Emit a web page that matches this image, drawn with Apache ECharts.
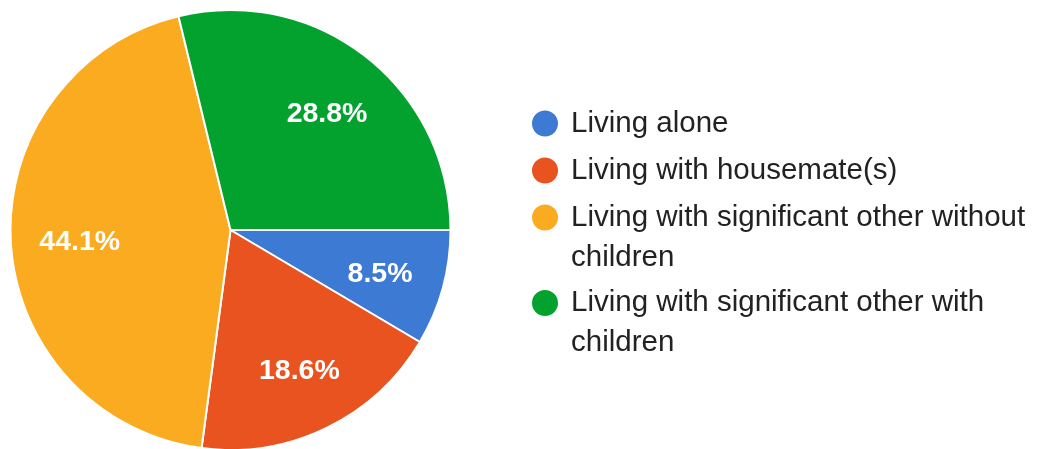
<!DOCTYPE html>
<html>
<head>
<meta charset="utf-8">
<style>
  html, body { margin: 0; padding: 0; background: #fff; }
  #chart { width: 1040px; height: 449px; }
</style>
<script src="https://cdn.jsdelivr.net/npm/echarts@6/dist/echarts.min.js"></script>
</head>
<body>
<div id="chart"></div>
<script>
const categories = [
  'Living alone',
  'Living with housemate(s)',
  'Living with significant other without children',
  'Living with significant other with children'
];
const percentValues = [8.5, 18.6, 44.1, 28.8];
const sliceColors = ['#3D7AD4', '#E8531F', '#FBAB1F', '#03A22F'];
const twoLineItems = [false, false, true, true];
const legendTops = [103.5, 150.5, 197.5, 283];

const FONT = '"Liberation Sans", Arial, Helvetica, sans-serif';

// circle at the top of a 28 x 68 box, for legend entries whose text wraps to two lines
const TOP_CIRCLE_ICON = 'path://M0,14A14,14 0 1,1 28,14A14,14 0 1,1 0,14ZM0,68L0.01,68L0,68Z';

const pieData = categories.map((name, i) => ({
  name: name,
  value: percentValues[i],
  itemStyle: { color: sliceColors[i] }
}));

const labelData = categories.map((name, i) => ({
  name: name,
  value: percentValues[i]
}));

const legends = categories.map((name, i) => ({
  orient: 'vertical',
  left: 530,
  top: legendTops[i],
  padding: 0,
  itemWidth: 28,
  itemHeight: twoLineItems[i] ? 68 : 28,
  icon: twoLineItems[i] ? TOP_CIRCLE_ICON : 'circle',
  selectedMode: false,
  textStyle: {
    fontFamily: FONT,
    fontSize: 29.5,
    color: '#222222',
    lineHeight: 40,
    width: 470,
    overflow: 'break',
    padding: [0, 0, 0, 7]
  },
  data: [name]
}));

const chart = echarts.init(document.getElementById('chart'), null, { renderer: 'canvas' });

chart.setOption({
  animation: false,
  backgroundColor: '#ffffff',
  legend: legends,
  series: [
    {
      type: 'pie',
      center: [230.5, 230],
      radius: [0, 220],
      startAngle: 0,
      clockwise: true,
      silent: true,
      label: { show: false },
      labelLine: { show: false },
      itemStyle: { borderColor: '#ffffff', borderWidth: 2 },
      data: pieData
    },
    {
      type: 'pie',
      center: [230.5, 230],
      radius: [80, 220],
      startAngle: 0,
      clockwise: true,
      silent: true,
      itemStyle: { color: 'rgba(0,0,0,0)', borderWidth: 0 },
      labelLine: { show: false },
      label: {
        show: true,
        position: 'inside',
        offset: [2, 4],
        color: '#ffffff',
        fontFamily: FONT,
        fontSize: 28.5,
        fontWeight: 'bold',
        formatter: (p) => p.value.toFixed(1) + '%'
      },
      data: labelData
    }
  ]
});
</script>
</body>
</html>
